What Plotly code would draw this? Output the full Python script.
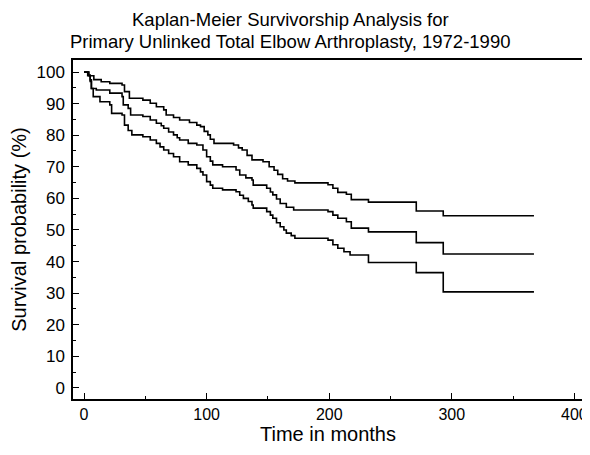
import plotly.graph_objects as go

# Kaplan-Meier estimate (middle) and confidence limits (upper / lower)
upper_t = [0, 4, 8, 14, 21, 31, 33, 37, 48, 54, 59, 65, 67, 73, 78, 86, 92, 95, 98, 101, 103, 106,
           122, 126, 129, 133, 137, 146, 151, 155, 158, 162, 166, 172, 199, 203, 207, 214, 218, 232,
           271, 293, 367]
upper_v = [100, 98.8, 97.6, 96.9, 96.4, 95.9, 93.8, 91.7, 91.1, 90.1, 89.0, 88.0, 86.4, 85.6, 84.8,
           84.0, 83.2, 82.7, 81.2, 80.1, 78.7, 77.4, 76.9, 76.0, 75.3, 73.6, 72.2, 71.6, 70.0, 68.9,
           67.6, 66.2, 65.5, 64.9, 64.3, 63.2, 61.9, 61.3, 59.6, 58.8, 56.0, 54.5, 54.5]

middle_t = [0, 3, 5, 6, 10, 21, 31, 32, 36, 38, 48, 54, 59, 63, 65, 69, 73, 76, 78, 85, 92, 97, 100,
            103, 105, 113, 124, 127, 132, 137, 138, 149, 152, 154, 157, 160, 165, 171, 199, 203, 207,
            214, 218, 232, 271, 293, 367]
middle_v = [100, 98.8, 97.5, 94.8, 94.3, 93.3, 92.2, 89.6, 88.5, 86.4, 85.9, 84.8, 83.8, 83.0, 82.2,
            81.0, 80.1, 79.2, 78.5, 77.4, 76.9, 75.3, 73.2, 71.8, 70.6, 70.0, 69.0, 67.4, 66.5, 65.8,
            64.2, 63.2, 62.0, 61.1, 59.8, 58.4, 57.2, 56.3, 55.8, 54.7, 53.7, 52.6, 50.6, 49.4, 46.0,
            42.4, 42.4]

lower_t = [0, 3.5, 5, 6, 7.5, 13, 21, 22.5, 31, 33, 36, 39, 48, 54, 59, 62, 65, 69, 73, 78, 85, 92,
           95, 97, 100, 103, 105, 113, 124, 127, 130, 134, 137, 138, 149, 152, 154, 157, 160, 163,
           165, 169, 172, 199, 203, 207, 212, 217, 232, 271, 293, 367]
lower_v = [100, 99.0, 97.0, 94.8, 92.2, 90.6, 89.6, 86.9, 86.4, 83.2, 81.5, 80.1, 79.5, 78.5, 77.4,
           76.3, 75.3, 74.2, 73.2, 71.6, 70.6, 69.5, 68.4, 67.4, 65.3, 64.2, 63.2, 62.7, 62.1, 61.0,
           60.0, 59.0, 57.9, 56.9, 55.8, 54.7, 53.7, 52.3, 51.0, 50.0, 49.0, 48.2, 47.4, 46.8, 45.3,
           44.2, 43.1, 42.1, 39.7, 36.5, 30.4, 30.4]

x_ticks = [0, 100, 200, 300, 400]
y_ticks = [0, 10, 20, 30, 40, 50, 60, 70, 80, 90, 100]

title_lines = ["Kaplan-Meier Survivorship Analysis for",
               "Primary Unlinked Total Elbow Arthroplasty, 1972-1990"]

FONT = "Liberation Sans, Arial, sans-serif"

# page body has an 8px margin, so the figure is sized/offset to compensate
W, H = 582, 447
ML, MR, MT, MB = 65, 7, 52, 56

fig = go.Figure()
for name, t, v in [("Upper", upper_t, upper_v), ("Estimate", middle_t, middle_v), ("Lower", lower_t, lower_v)]:
    fig.add_trace(go.Scatter(x=t, y=v, mode="lines", name=name,
                             line=dict(color="black", width=1.6, shape="hv")))

fig.update_layout(
    width=W, height=H,
    margin=dict(l=ML, r=MR, t=MT, b=MB),
    paper_bgcolor="white", plot_bgcolor="white",
    showlegend=False,
    font=dict(family=FONT, color="black", size=17),
)

fig.update_xaxes(
    range=[-9, 407], tickvals=x_ticks, ticktext=[str(v) for v in x_ticks],
    ticks="inside", ticklen=6, tickwidth=1.2, tickcolor="black",
    minor=dict(dtick=50, tick0=0, ticks="inside", ticklen=3, tickcolor="black"),
    showline=True, linecolor="black", linewidth=1.5, mirror=True,
    showgrid=False, zeroline=False, automargin=False,
    tickfont=dict(size=16, family=FONT),
    title=dict(text="Time in months", font=dict(size=20, family=FONT), standoff=5),
)
fig.update_yaxes(
    range=[-3.5, 103.8], tickvals=y_ticks, ticktext=[str(v) for v in y_ticks],
    ticks="inside", ticklen=6, tickwidth=1.2, tickcolor="black",
    minor=dict(dtick=5, tick0=0, ticks="inside", ticklen=3, tickcolor="black"),
    showline=True, linecolor="black", linewidth=1.5, mirror=True,
    showgrid=False, zeroline=False, automargin=False,
    ticklabelstandoff=3,
    tickfont=dict(size=17, family=FONT),
    title=dict(text="Survival probability (%)", font=dict(size=20, family=FONT), standoff=8),
)

plot_h = H - MT - MB
plot_w = W - ML - MR
for line, ypx in zip(title_lines, [11.5, 34]):
    fig.add_annotation(
        text=line, xref="paper", yref="paper",
        x=(282 - ML) / plot_w, y=1 + (MT - ypx) / plot_h,
        xanchor="center", yanchor="middle", showarrow=False,
        font=dict(size=18.5, family=FONT, color="black"),
    )

fig.write_html("out.html")
